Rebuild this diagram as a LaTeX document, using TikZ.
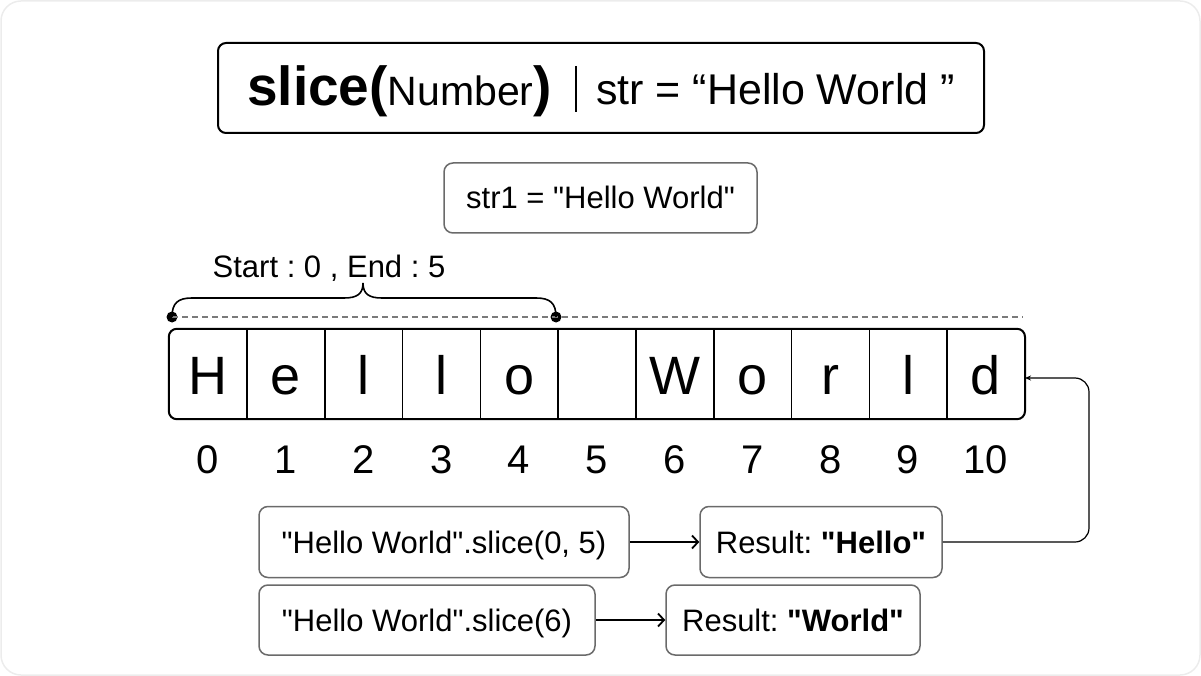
\documentclass[tikz,border=0pt]{standalone}
\usepackage{fontspec}
\setmainfont{Liberation Sans}[Ligatures=TeXOff]
\usetikzlibrary{arrows.meta,calc}
\definecolor{boxgray}{HTML}{6A6A6A}
\definecolor{dashgray}{HTML}{7A7A7A}
\definecolor{cardgray}{HTML}{ECECEC}
\newcommand{\fs}[1]{\fontsize{#1}{#1}\selectfont}
\frenchspacing
\tikzset{
  titlebox/.style={draw=black, line width=2pt, rounded corners=8pt, inner sep=0pt},
  graybox/.style={draw=boxgray, line width=1.5pt, rounded corners=9pt, inner sep=0pt, font=\fs{31}, text height=22pt, text depth=0pt},
  cell/.style={inner sep=0pt, minimum width=77.8pt, minimum height=90pt},
  letter/.style={inner sep=0pt, font=\fs{54}, anchor=base},
  idx/.style={inner sep=0pt, font=\fs{40}, anchor=base},
  conn/.style={line width=1.6pt, -{Straight Barb[length=6pt,width=13pt,line width=1.8pt]}},
  backconn/.style={line width=1.2pt, rounded corners=14pt, -{Stealth[length=6pt,width=5pt]}},
  dotnode/.style={circle, fill=black, inner sep=0pt, minimum size=11pt}
}
\begin{document}
\begin{tikzpicture}[x=1pt,y=-1pt]
\useasboundingbox (0,0) rectangle (1201,676);
\draw[cardgray, line width=1.5pt, rounded corners=20pt] (1,1) rectangle (1200,675);

% title
\node[titlebox, minimum width=766pt, minimum height=90pt] (title) at (601,88) {};
\node[anchor=base west, inner sep=0pt] (tl) at (247,106) {{\bfseries\fs{55}slice(}{\fs{41}Number}{\bfseries\fs{55})}};
\node[anchor=base east, inner sep=0pt, font=\fs{43}] (tr) at (955,105) {str = “Hello World ”};
\draw[line width=2pt] (576,66) -- (576,112);

% str1
\node[graybox, minimum width=313pt, minimum height=70pt] (str1) at (600.5,198) {str1 = "Hello World"};

% label
\node[anchor=base, inner sep=0pt, font=\fs{31}] (lab) at (329,277) {Start : 0 , End : 5};

% cells
\foreach \i/\ch in {0/H,1/e,2/l,3/l,4/o,5/{},6/W,7/o,8/r,9/l,10/d}{
  \node[cell] (c\i) at ({169+77.8*(\i+0.5)},374) {};
  \node[letter] (t\i) at ({169+77.8*(\i+0.5)},394) {\ch};
  \node[idx] (i\i) at ({169+77.8*(\i+0.5)},473) {\i};
}
\draw[line width=2pt, rounded corners=8pt] (c0.north west) rectangle (c10.south east);
\foreach \i in {0,...,9}{
  \draw[line width=1.5pt] (c\i.north east) -- (c\i.south east);
}

% dashed line and brace
\node[dotnode] (d0) at (172,317) {};
\node[dotnode] (d5) at (556,317) {};
\coordinate (dend) at (1023,317);
\draw[dashgray, line width=1.3pt, dash pattern=on 6pt off 4pt] (d0.center) -- (dend);
\coordinate (tip) at (363,283);
\draw[line width=1.6pt] (d0.center) .. controls (172,303) and (178,298) .. (192,298) -- (344,298) .. controls (357,298) and (363,294) .. (tip) .. controls (363,294) and (369,298) .. (382,298) -- (536,298) .. controls (550,298) and (556,303) .. (d5.center);

% bottom boxes
\node[graybox, minimum width=370pt, minimum height=71pt] (b1) at (444,542) {"Hello World".slice(0, 5)};
\node[graybox, minimum width=242pt, minimum height=71pt] (r1) at (821,542) {Result: \textbf{"Hello"}};
\node[graybox, minimum width=336pt, minimum height=70pt] (b2) at (427,620) {"Hello World".slice(6)};
\node[graybox, minimum width=254pt, minimum height=70pt] (r2) at (793,620) {Result: \textbf{"World"}};

\draw[conn] (b1.east) -- (r1.west);
\draw[conn] (b2.east) -- (r2.west);

\coordinate (turn) at (1089,378);
\draw[backconn] (r1.east) -| (turn) -- (c10.east |- turn);
\end{tikzpicture}
\end{document}
